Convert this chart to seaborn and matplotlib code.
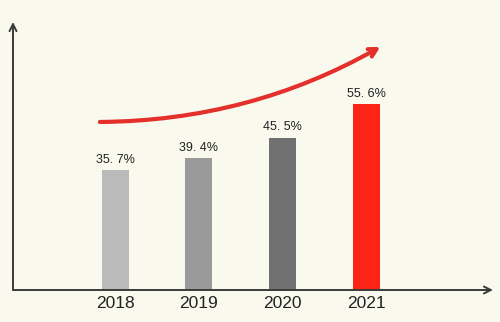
import matplotlib
matplotlib.use("Agg")
import matplotlib.pyplot as plt
import seaborn as sns

years = ["2018", "2019", "2020", "2021"]
values = [35.7, 39.4, 45.5, 55.6]
labels = ["35. 7%", "39. 4%", "45. 5%", "55. 6%"]
colors = ["#bababa", "#9a9a9a", "#717171", "#fd2317"]

bg = "#f9f9ee"
sns.set_style("white")
plt.rcParams["font.family"] = ["Liberation Sans Narrow", "Liberation Sans", "DejaVu Sans"]

fig = plt.figure(figsize=(5, 3.22), dpi=100, facecolor=bg)
ax = fig.add_axes([13 / 500, 32 / 322, 480 / 500, 268 / 322])
ax.set_facecolor(bg)

sns.barplot(x=years, y=values, hue=years, palette=colors, width=0.32,
            saturation=1, legend=False, ax=ax, linewidth=0, edgecolor="none")

ax.set_xlim(-1.22, 4.515)
ax.set_ylim(0, 80)
for s in ax.spines.values():
    s.set_visible(False)
ax.set_yticks([])
ax.tick_params(axis="x", length=0, pad=4, labelsize=12.5, labelcolor="#222222")
ax.set_xlabel("")
ax.set_ylabel("")

for i, cont in enumerate(ax.containers):
    ax.bar_label(cont, labels=[labels[i]], padding=3, fontsize=9, color="#222222")

axis_kw = dict(arrowstyle="->,head_length=0.5,head_width=0.25", color="#3a3a3a",
               lw=1.4, shrinkA=0, shrinkB=0)
ax.annotate("", xy=(0, 1), xytext=(0, 0), xycoords="axes fraction",
            arrowprops=axis_kw, annotation_clip=False)
ax.annotate("", xy=(1, 0), xytext=(0, 0), xycoords="axes fraction",
            arrowprops=axis_kw, annotation_clip=False)

ax.annotate("", xy=(0.765, 0.907), xytext=(0.181, 0.627), xycoords="axes fraction",
            arrowprops=dict(arrowstyle="->,head_length=0.55,head_width=0.3",
                            color="#e3302a", lw=3, shrinkA=0, shrinkB=0,
                            connectionstyle="arc3,rad=0.13"),
            annotation_clip=False)

fig.savefig("out.png", dpi=100, facecolor=bg)
